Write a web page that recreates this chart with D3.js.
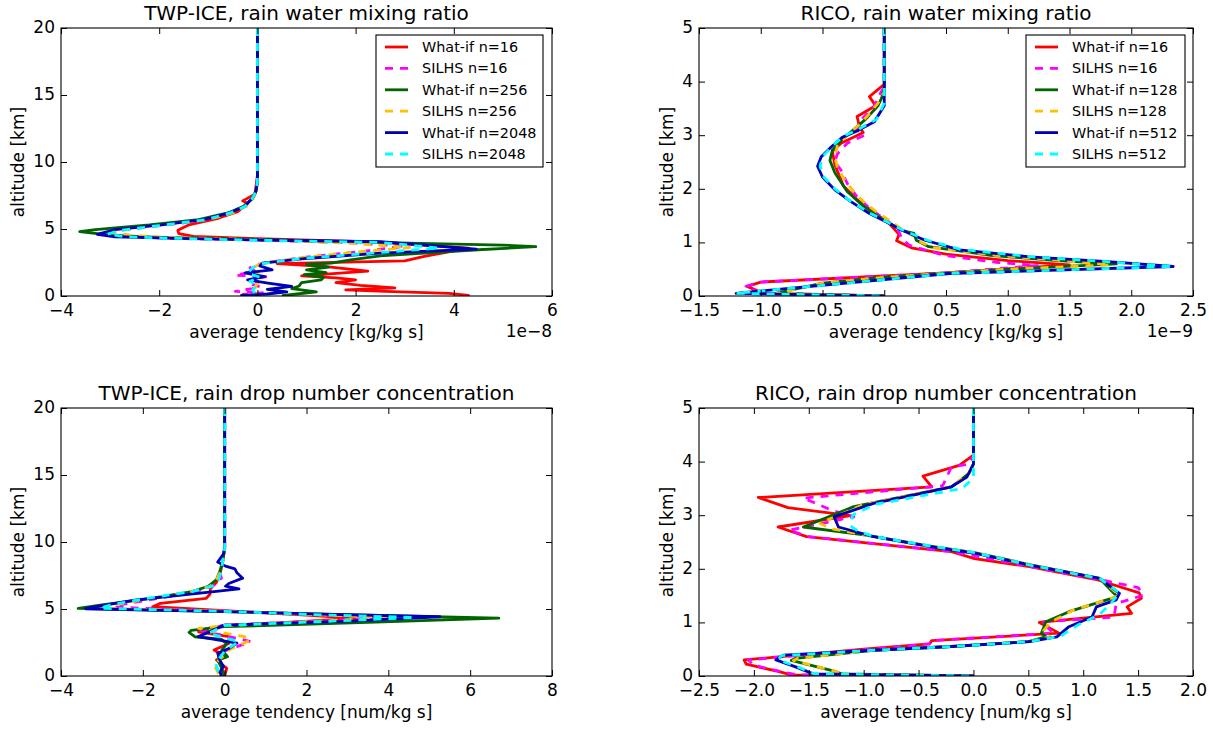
<!DOCTYPE html>
<html>
<head>
<meta charset="utf-8">
<script src="https://cdn.jsdelivr.net/npm/d3@7"></script>
<style>
  body { margin: 0; background: #fff; }
  svg { display: block; }
  text { font-family: "DejaVu Sans", sans-serif; fill: #000; }
</style>
</head>
<body>
<div id="chart"></div>
<script>
// ---- data: [tendency, altitude km], top of column first ----

// TWP-ICE, rain water mixing ratio (x 1e-8 kg/kg s)
var twpQrWhatif16 = [[0,20],[0,9],[-0.05,7.6],[-0.3,7.1],[-0.2,6.9],[-0.4,6.3],[-0.8,5.8],[-1.4,5.3],[-1.62,4.9],[-1.6,4.65],[-1.3,4.45],[0,4.28],[2.5,4.02],[4.3,3.58],[3.4,2.95],[3.0,2.62],[0.4,2.42],[1.4,2.2],[2.25,1.85],[0.9,1.5],[1.6,1.35],[2.0,1.2],[1.6,1.0],[2.1,0.8],[2.8,0.6],[1.8,0.45],[2.6,0.35],[3.9,0.2],[4.3,0.05],[4.3,0]];
var twpQrSilhs16 = [[0,20],[0,8.5],[-0.03,7.8],[-0.12,7.2],[-0.3,6.6],[-0.6,6.1],[-1.2,5.6],[-2.1,5.2],[-2.9,4.85],[-3.1,4.65],[-2.7,4.45],[-1.8,4.3],[0,4.18],[2.0,3.95],[3.0,3.72],[2.2,3.35],[1.0,2.9],[0.2,2.5],[0,2.35],[-0.15,2.1],[-0.05,1.85],[-0.45,1.55],[0.2,1.45],[-0.1,1.3],[0,1.1],[-0.15,0.9],[0.05,0.7],[-0.1,0.55],[-0.45,0.35],[0.1,0.25],[-0.3,0.12],[0,0.02]];
var twpQrWhatif256 = [[0,20],[0,8.5],[-0.03,7.8],[-0.1,7.3],[-0.28,6.7],[-0.6,6.2],[-1.2,5.7],[-2.2,5.3],[-3.3,4.95],[-3.62,4.8],[-3.0,4.55],[-2.0,4.38],[0,4.22],[2.6,3.98],[5.0,3.8],[5.67,3.68],[4.5,3.45],[2.5,3.0],[1.9,2.7],[1.5,2.45],[1.0,2.35],[1.45,2.15],[1.0,1.95],[1.4,1.75],[0.95,1.6],[1.35,1.4],[1.3,1.2],[0.9,1.0],[0.85,0.75],[0.7,0.55],[1.2,0.3],[0.8,0.15],[0.5,0.02]];
var twpQrSilhs256 = [[0,20],[0,8.5],[-0.02,7.8],[-0.08,7.3],[-0.22,6.7],[-0.5,6.2],[-1.0,5.7],[-1.9,5.3],[-2.7,4.95],[-2.95,4.72],[-2.5,4.5],[-1.6,4.35],[0,4.2],[2.0,3.92],[3.1,3.62],[2.0,3.28],[0.8,2.82],[0.1,2.45],[-0.05,2.2],[0.05,1.9],[-0.05,1.5],[0.05,1.1],[-0.05,0.7],[0.05,0.4],[-0.05,0.02]];
var twpQrWhatif2048 = [[0,20],[0,8.5],[-0.03,7.8],[-0.1,7.3],[-0.26,6.7],[-0.57,6.2],[-1.1,5.7],[-1.95,5.3],[-2.9,4.95],[-3.26,4.6],[-2.9,4.42],[-1.6,4.3],[0,4.18],[2.5,4.05],[4.46,3.5],[2.5,3.2],[1.0,2.8],[0.1,2.45],[0.05,2.25],[0.3,1.95],[-0.25,1.72],[0.15,1.45],[-0.2,1.2],[0.25,0.95],[0.7,0.72],[0.2,0.5],[0.6,0.3],[0.2,0.15],[-0.35,0.02]];
var twpQrSilhs2048 = [[0,20],[0,8.5],[-0.03,7.8],[-0.1,7.3],[-0.25,6.7],[-0.55,6.2],[-1.05,5.7],[-1.9,5.3],[-2.8,4.9],[-3.05,4.62],[-2.7,4.42],[-1.6,4.3],[0,4.16],[2.5,4.0],[3.7,3.58],[2.4,3.22],[0.9,2.8],[0.1,2.42],[-0.1,2.1],[-0.2,1.7],[0.05,1.4],[-0.15,1.1],[0,0.8],[-0.1,0.45],[0,0.02]];

// RICO, rain water mixing ratio (x 1e-9 kg/kg s)
var ricoQrWhatif16 = [[0,5],[0,3.95],[-0.12,3.72],[-0.07,3.55],[-0.22,3.35],[-0.2,3.15],[-0.17,3.05],[-0.35,2.85],[-0.42,2.7],[-0.4,2.45],[-0.33,2.05],[-0.22,1.8],[-0.08,1.55],[0.04,1.35],[0.12,1.15],[0.1,1.03],[0.22,0.9],[0.5,0.78],[1.0,0.66],[1.5,0.58],[0.5,0.43],[-1.0,0.26],[-1.11,0.18],[-1.03,0.1],[-1.0,0.05],[0,0]];
var ricoQrSilhs16 = [[0,5],[0,3.9],[-0.04,3.75],[-0.08,3.55],[-0.18,3.3],[-0.22,3.1],[-0.16,3.0],[-0.3,2.85],[-0.38,2.65],[-0.4,2.5],[-0.35,2.35],[-0.3,2.1],[-0.22,1.85],[-0.1,1.6],[0.03,1.4],[0.12,1.2],[0.14,1.08],[0.2,0.95],[0.48,0.76],[0.9,0.63],[1.24,0.57],[0.5,0.43],[-1.0,0.26],[-1.12,0.18],[-1.05,0.1],[-0.95,0.05],[0,0]];
var ricoQrWhatif128 = [[0,5],[0,3.85],[-0.02,3.7],[-0.05,3.55],[-0.15,3.3],[-0.25,3.1],[-0.35,2.9],[-0.42,2.72],[-0.44,2.53],[-0.4,2.3],[-0.3,1.95],[-0.18,1.7],[-0.08,1.53],[0.05,1.35],[0.15,1.22],[0.24,1.17],[0.26,1.04],[0.36,0.92],[0.86,0.76],[1.4,0.66],[1.88,0.6],[1.0,0.5],[0,0.35],[-0.5,0.24],[-0.88,0.05],[0,0]];
var ricoQrSilhs128 = [[0,5],[0,3.8],[-0.05,3.6],[-0.12,3.4],[-0.2,3.2],[-0.3,3.0],[-0.38,2.8],[-0.4,2.6],[-0.38,2.4],[-0.33,2.2],[-0.25,1.95],[-0.15,1.72],[-0.05,1.55],[0.06,1.38],[0.16,1.22],[0.25,1.1],[0.3,1.0],[0.4,0.9],[0.9,0.76],[1.4,0.67],[1.83,0.58],[1.0,0.5],[0,0.35],[-0.5,0.24],[-0.87,0.05],[0,0]];
var ricoQrWhatif512 = [[0,5],[0,3.55],[-0.08,3.25],[-0.21,3.09],[-0.34,2.96],[-0.43,2.78],[-0.51,2.6],[-0.54,2.42],[-0.5,2.22],[-0.4,1.98],[-0.27,1.76],[-0.12,1.54],[0.01,1.39],[0.14,1.23],[0.33,1.04],[0.61,0.86],[1.18,0.73],[1.81,0.64],[2.34,0.55],[0.53,0.42],[-1.2,0.05],[0,0]];
var ricoQrSilhs512 = [[0,5],[0,3.6],[-0.06,3.3],[-0.2,3.12],[-0.33,2.98],[-0.42,2.8],[-0.5,2.6],[-0.52,2.42],[-0.49,2.22],[-0.4,2.0],[-0.28,1.78],[-0.12,1.55],[0.01,1.4],[0.15,1.23],[0.35,1.04],[0.62,0.87],[1.2,0.73],[1.8,0.64],[2.34,0.55],[0.53,0.42],[-1.2,0.05],[0,0]];

// TWP-ICE, rain drop number concentration (num/kg s)
var twpNrWhatif16 = [[0,20],[0,9.5],[-0.05,8.5],[-0.1,7.8],[-0.2,7.0],[-0.35,6.5],[-0.36,6.1],[-0.45,5.8],[-1.57,5.42],[-1.76,5.17],[0,4.87],[2.0,4.55],[3.2,4.3],[1.5,4.0],[0,3.78],[-0.64,3.3],[0.11,2.93],[0.1,2.43],[-0.26,1.94],[0.02,1.44],[-0.2,1.2],[0.05,0.57],[0,0]];
var twpNrSilhs16 = [[0,20],[0,9.5],[-0.05,8.5],[-0.12,7.8],[-0.08,7.3],[-0.3,6.7],[-0.7,6.3],[-1.6,5.8],[-2.5,5.35],[-2.7,5.15],[-2.0,5.05],[0,4.85],[2.5,4.55],[4.2,4.35],[2.0,4.05],[0,3.8],[-0.64,3.43],[0.49,2.68],[0.63,2.56],[0.3,2.19],[-0.17,1.69],[-0.12,1.07],[-0.05,0.5],[-0.1,0]];
var twpNrWhatif256 = [[0,20],[0,9.5],[-0.05,8.5],[-0.12,7.8],[-0.2,7.2],[-0.4,6.7],[-0.8,6.3],[-1.8,5.8],[-3.0,5.3],[-3.58,5.04],[0,4.8],[3.5,4.55],[6.7,4.32],[3.5,4.0],[0,3.68],[-0.82,3.4],[-0.87,3.25],[-0.73,2.93],[-0.07,2.73],[0.05,2.4],[-0.07,1.94],[0.07,1.44],[-0.17,1.19],[-0.07,0.57],[0,0]];
var twpNrSilhs256 = [[0,20],[0,9.5],[-0.05,8.5],[-0.1,7.8],[-0.2,7.2],[-0.35,6.7],[-0.8,6.3],[-1.8,5.8],[-2.7,5.3],[-3.0,5.05],[0,4.83],[2.5,4.55],[4.0,4.35],[2.0,4.05],[0,3.75],[-0.64,3.55],[0.49,2.93],[0.63,2.68],[0.11,1.94],[-0.26,0.82],[-0.12,0]];
var twpNrWhatif2048 = [[0,20],[0,9.6],[-0.03,9.1],[-0.17,8.5],[0.02,8.2],[0.25,8.0],[0.3,7.7],[0.44,7.3],[0.1,6.9],[0.02,6.7],[0.35,6.5],[-0.26,6.3],[-1.0,6.05],[-2.2,5.66],[-3.26,5.12],[-3.4,5.02],[0,4.8],[2.6,4.6],[5.26,4.42],[2.9,4.08],[0,3.8],[-0.45,3.2],[-0.65,2.93],[0.3,2.45],[0.1,2.05],[-0.17,1.7],[-0.12,1.2],[-0.03,0.7],[-0.12,0.32],[-0.07,0]];
var twpNrSilhs2048 = [[0,20],[0,9.5],[-0.05,8.5],[-0.08,7.8],[-0.15,7.2],[-0.3,6.7],[-0.8,6.3],[-1.9,5.8],[-2.8,5.3],[-3.05,5.05],[0,4.83],[2.5,4.55],[4.65,4.37],[2.3,4.05],[0,3.78],[-0.4,3.18],[0.35,2.56],[0.02,1.94],[-0.22,0.94],[-0.12,0]];

// RICO, rain drop number concentration (num/kg s)
var ricoNrWhatif16 = [[0,5],[0,4.12],[-0.13,3.93],[-0.46,3.73],[-0.38,3.53],[-1.96,3.33],[-1.69,3.14],[-1.12,2.99],[-1.78,2.78],[-1.52,2.6],[-0.91,2.47],[-0.2,2.32],[0.01,2.19],[0.51,2.04],[1.12,1.8],[1.51,1.55],[1.53,1.45],[1.4,1.29],[1.44,1.17],[0.6,1.0],[0.78,0.8],[-0.38,0.66],[-0.4,0.6],[-1.0,0.5],[-2.09,0.3],[-2.07,0.22],[-1.77,0.08],[-1.66,0.02],[0,0]];
var ricoNrSilhs16 = [[0,5],[0,4.1],[-0.05,3.95],[-0.2,3.9],[-0.28,3.55],[-1.55,3.32],[-1.3,3.1],[-1.09,2.97],[-1.68,2.72],[-1.5,2.6],[-0.9,2.47],[-0.2,2.32],[0.5,2.05],[1.15,1.8],[1.5,1.65],[1.55,1.51],[1.3,1.35],[1.28,1.1],[0.62,1.01],[0.73,0.8],[-0.38,0.66],[-0.4,0.6],[-1.0,0.49],[-2.05,0.3],[-2.0,0.2],[-1.75,0.08],[-1.6,0.02],[0,0]];
var ricoNrWhatif128 = [[0,5],[0,3.95],[-0.04,3.78],[-0.2,3.53],[-1.09,3.16],[-1.55,2.78],[-0.98,2.63],[-0.38,2.42],[0.01,2.3],[0.51,2.08],[1.15,1.82],[1.31,1.48],[0.87,1.2],[0.66,1.01],[0.62,0.8],[0.66,0.73],[0.5,0.64],[-0.2,0.55],[-0.91,0.48],[-1.62,0.33],[-1.66,0.29],[-1.25,0.08],[-1.2,0.04],[0,0]];
var ricoNrSilhs128 = [[0,5],[0,3.9],[-0.06,3.75],[-0.2,3.53],[-1.0,3.2],[-1.4,2.85],[-1.3,2.75],[-0.9,2.6],[-0.38,2.42],[0.01,2.3],[0.51,2.08],[1.15,1.82],[1.33,1.5],[0.9,1.22],[0.7,1.0],[0.64,0.85],[0.7,0.73],[0.5,0.64],[-0.2,0.55],[-0.91,0.48],[-1.6,0.33],[-1.64,0.29],[-1.25,0.08],[-1.2,0.04],[0,0]];
var ricoNrWhatif512 = [[0,5],[0,3.96],[-0.06,3.71],[-0.2,3.53],[-0.56,3.37],[-0.91,3.22],[-1.27,2.97],[-1.23,2.78],[-0.91,2.6],[-0.38,2.41],[0.01,2.29],[0.51,2.07],[1.15,1.82],[1.33,1.54],[1.3,1.42],[1.12,1.29],[1.08,1.1],[0.87,0.92],[0.76,0.73],[0.51,0.64],[-0.2,0.55],[-0.91,0.48],[-1.73,0.39],[-1.8,0.3],[-1.62,0.17],[-1.46,0.04],[0,0]];
var ricoNrSilhs512 = [[0,5],[0,3.7],[-0.1,3.5],[-0.5,3.35],[-0.9,3.2],[-1.1,3.0],[-1.12,2.8],[-1.05,2.7],[-0.9,2.6],[-0.38,2.42],[0.01,2.3],[0.51,2.07],[1.15,1.82],[1.33,1.55],[1.25,1.35],[1.15,1.15],[0.95,0.95],[0.8,0.75],[0.51,0.64],[-0.2,0.55],[-0.91,0.48],[-1.75,0.38],[-1.78,0.3],[-1.6,0.17],[-1.45,0.04],[0,0]];

var twpLabels = ['What-if n=16', 'SILHS n=16', 'What-if n=256', 'SILHS n=256', 'What-if n=2048', 'SILHS n=2048'];
var ricoLabels = ['What-if n=16', 'SILHS n=16', 'What-if n=128', 'SILHS n=128', 'What-if n=512', 'SILHS n=512'];

var twpAltTicks = [0, 5, 10, 15, 20];
var ricoAltTicks = [0, 1, 2, 3, 4, 5];
var twpQrTicks = [-4, -2, 0, 2, 4, 6];
var ricoQrTicks = [-1.5, -1.0, -0.5, 0.0, 0.5, 1.0, 1.5, 2.0, 2.5];
var twpNrTicks = [-4, -2, 0, 2, 4, 6, 8];
var ricoNrTicks = [-2.5, -2.0, -1.5, -1.0, -0.5, 0.0, 0.5, 1.0, 1.5, 2.0];

// ---- styling per series (same order as labels) ----
var styles = [
  { color: '#ff0000', dash: null },
  { color: '#ff00ff', dash: '8,7' },
  { color: '#006400', dash: null },
  { color: '#ffc000', dash: '8,7' },
  { color: '#0000b4', dash: null },
  { color: '#00ffff', dash: '8,7' }
];

var width = 1213, height = 730;

var svg = d3.select('#chart')
  .append('svg')
  .attr('width', width)
  .attr('height', height);

var minus = function (s) { return String(s).replace('-', '\u2212'); };

var panels = [
  { left: 61, right: 552, top: 28, bottom: 296, xd: [-4, 6], yd: [0, 20],
    xt: twpQrTicks, yt: twpAltTicks, fmt: d3.format('d'), ylabOff: 37,
    title: 'TWP-ICE, rain water mixing ratio', xlab: 'average tendency [kg/kg s]', offset: '1e\u22128',
    series: [twpQrWhatif16, twpQrSilhs16, twpQrWhatif256, twpQrSilhs256, twpQrWhatif2048, twpQrSilhs2048],
    legend: twpLabels, legendBox: [376, 35, 167, 132] },
  { left: 699, right: 1193, top: 28, bottom: 296, xd: [-1.5, 2.5], yd: [0, 5],
    xt: ricoQrTicks, yt: ricoAltTicks, fmt: d3.format('.1f'), ylabOff: 26,
    title: 'RICO, rain water mixing ratio', xlab: 'average tendency [kg/kg s]', offset: '1e\u22129',
    series: [ricoQrWhatif16, ricoQrSilhs16, ricoQrWhatif128, ricoQrSilhs128, ricoQrWhatif512, ricoQrSilhs512],
    legend: ricoLabels, legendBox: [1026, 35, 159, 132] },
  { left: 61, right: 552, top: 408, bottom: 676, xd: [-4, 8], yd: [0, 20],
    xt: twpNrTicks, yt: twpAltTicks, fmt: d3.format('d'), ylabOff: 37,
    title: 'TWP-ICE, rain drop number concentration', xlab: 'average tendency [num/kg s]', offset: null,
    series: [twpNrWhatif16, twpNrSilhs16, twpNrWhatif256, twpNrSilhs256, twpNrWhatif2048, twpNrSilhs2048],
    legend: null },
  { left: 699, right: 1193, top: 408, bottom: 676, xd: [-2.5, 2.0], yd: [0, 5],
    xt: ricoNrTicks, yt: ricoAltTicks, fmt: d3.format('.1f'), ylabOff: 26,
    title: 'RICO, rain drop number concentration', xlab: 'average tendency [num/kg s]', offset: null,
    series: [ricoNrWhatif16, ricoNrSilhs16, ricoNrWhatif128, ricoNrSilhs128, ricoNrWhatif512, ricoNrSilhs512],
    legend: null }
];

var yFmt = d3.format('d');

panels.forEach(function (p, pi) {
  var x = d3.scaleLinear().domain(p.xd).range([p.left, p.right]);
  var y = d3.scaleLinear().domain(p.yd).range([p.bottom, p.top]);
  var w = p.right - p.left, h = p.bottom - p.top;
  var g = svg.append('g');

  g.append('clipPath').attr('id', 'clip' + pi)
    .append('rect').attr('x', p.left).attr('y', p.top).attr('width', w).attr('height', h);

  // curves
  var line = d3.line().x(function (d) { return x(d[0]); }).y(function (d) { return y(d[1]); });
  var curves = g.append('g').attr('clip-path', 'url(#clip' + pi + ')');
  p.series.forEach(function (s, i) {
    curves.append('path')
      .datum(s)
      .attr('d', line)
      .attr('fill', 'none')
      .attr('stroke', styles[i].color)
      .attr('stroke-width', 2.8)
      .attr('stroke-linejoin', 'round')
      .attr('stroke-dasharray', styles[i].dash);
  });

  // axes, ticks pointing inward on all four sides
  var xf = function (d) { return minus(p.fmt(d)); };
  var yf = function (d) { return minus(yFmt(d)); };
  var bottomAx = g.append('g').attr('transform', 'translate(0,' + p.bottom + ')')
    .call(d3.axisBottom(x).tickValues(p.xt).tickFormat(xf).tickSizeInner(-6).tickSizeOuter(0).tickPadding(8));
  var leftAx = g.append('g').attr('transform', 'translate(' + p.left + ',0)')
    .call(d3.axisLeft(y).tickValues(p.yt).tickFormat(yf).tickSizeInner(-6).tickSizeOuter(0).tickPadding(6));
  var topAx = g.append('g').attr('transform', 'translate(0,' + p.top + ')')
    .call(d3.axisTop(x).tickValues(p.xt).tickFormat('').tickSizeInner(-6).tickSizeOuter(0));
  var rightAx = g.append('g').attr('transform', 'translate(' + p.right + ',0)')
    .call(d3.axisRight(y).tickValues(p.yt).tickFormat('').tickSizeInner(-6).tickSizeOuter(0));

  [bottomAx, leftAx, topAx, rightAx].forEach(function (a) {
    a.select('.domain').remove();
    a.selectAll('line').attr('stroke', '#000');
    a.selectAll('text').style('font-size', '17px').style('font-family', '"DejaVu Sans", sans-serif').attr('fill', '#000');
  });
  leftAx.selectAll('text').attr('dy', '0.26em');

  g.append('rect')
    .attr('x', p.left).attr('y', p.top).attr('width', w).attr('height', h)
    .attr('fill', 'none').attr('stroke', '#000').attr('stroke-width', 1.1);

  // texts
  g.append('text')
    .attr('x', (p.left + p.right) / 2).attr('y', p.top - 8)
    .attr('text-anchor', 'middle').style('font-size', '20px')
    .text(p.title);

  g.append('text')
    .attr('x', (p.left + p.right) / 2).attr('y', p.bottom + 42)
    .attr('text-anchor', 'middle').style('font-size', '17px')
    .text(p.xlab);

  g.append('text')
    .attr('transform', 'translate(' + (p.left - p.ylabOff) + ',' + ((p.top + p.bottom) / 2) + ') rotate(-90)')
    .attr('text-anchor', 'middle').style('font-size', '17px')
    .text('altitude [km]');

  if (p.offset) {
    g.append('text')
      .attr('x', p.right).attr('y', p.bottom + 41)
      .attr('text-anchor', 'end').style('font-size', '17px')
      .text(p.offset);
  }

  // legend
  if (p.legend) {
    var b = p.legendBox;
    var lg = g.append('g');
    lg.append('rect')
      .attr('x', b[0]).attr('y', b[1]).attr('width', b[2]).attr('height', b[3])
      .attr('fill', '#fff').attr('stroke', '#000').attr('stroke-width', 1.1);
    p.legend.forEach(function (lab, i) {
      var yy = b[1] + 12 + i * 21.4;
      lg.append('line')
        .attr('x1', b[0] + 9).attr('x2', b[0] + 32).attr('y1', yy).attr('y2', yy)
        .attr('stroke', styles[i].color).attr('stroke-width', 2.8)
        .attr('stroke-dasharray', styles[i].dash);
      lg.append('text')
        .attr('x', b[0] + 46).attr('y', yy + 5)
        .style('font-size', '14.4px')
        .text(lab);
    });
  }
});
</script>
</body>
</html>
